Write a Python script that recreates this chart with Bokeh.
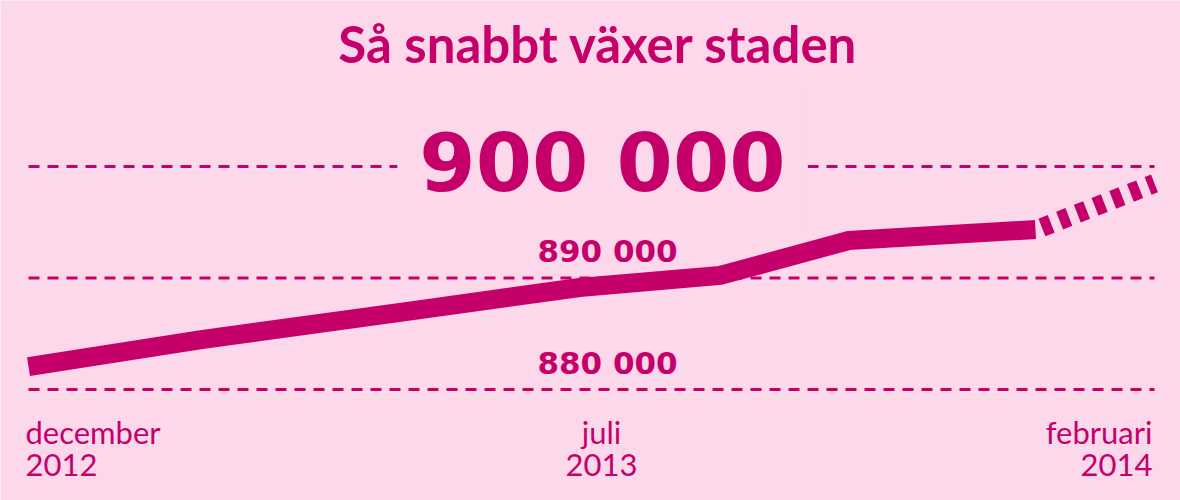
from bokeh.plotting import figure
from bokeh.models import Range1d, ColumnDataSource
from bokeh.core.properties import value
from bokeh.embed import file_html
from bokeh.resources import INLINE

# ---- data (months after December 2012, population) ----
solid_months = [0, 2.15, 4.6, 6.85, 8.6, 10.2, 12.52]
solid_pop = [882060, 884480, 886900, 889150, 890230, 893360, 894350]
proj_months = [12.6, 14]
proj_pop = [894530, 898480]

grid_values = [880000, 890000, 900000]
grid_labels = ["880 000", "890 000"]
big_label = "900 000"

tick_months = [0, 7, 14]
tick_month_names = ["december", "juli", "februari"]
tick_years = ["2012", "2013", "2014"]
tick_align = ["left", "center", "right"]

title_text = "Så snabbt växer staden"

# ---- style ----
BG = "#fcd8ea"
MAG = "#c6006b"
tick_xoff = [-3, 10, -2]

p = figure(width=1180, height=500, output_backend="svg", toolbar_location=None,
           x_range=Range1d(-0.3481, 14.3233), y_range=Range1d(870045, 914888),
           x_axis_type=None, y_axis_type=None, min_border=0)
p.min_border_left = p.min_border_right = p.min_border_top = p.min_border_bottom = 0
p.background_fill_color = BG
p.border_fill_color = BG
p.outline_line_color = None
p.xgrid.visible = False
p.ygrid.visible = False

# dashed gridlines
gsrc = ColumnDataSource(dict(x0=[tick_months[0]] * 3, x1=[tick_months[-1]] * 3,
                             y=grid_values))
p.segment(x0="x0", y0="y", x1="x1", y1="y", source=gsrc, line_color=MAG,
          line_width=3, line_dash="11 8")

mid = tick_months[1]

# big 900 000 label (covers the gridline)
p.text(x=[mid], y=[grid_values[2]], text=[big_label], text_font=value("DejaVu Sans"),
       text_font_style="bold", text_font_size="81px", text_color=MAG,
       text_align="center", text_baseline="alphabetic", x_offset=11, y_offset=-4,
       background_fill_color=BG, padding=22)

# line
p.line(solid_months, solid_pop, line_color=MAG, line_width=19, line_cap="butt",
       line_join="miter")
p.line(proj_months, proj_pop, line_color=MAG, line_width=19, line_cap="butt",
       line_dash="10 9")

# small value labels
p.text(x=[mid] * 2, y=grid_values[:2], text=grid_labels, text_font=value("DejaVu Sans"),
       text_font_style="bold", text_font_size="31px", text_color=MAG,
       text_align="center", text_baseline="alphabetic", x_offset=16, y_offset=-27)

# title
p.text(x=[mid], y=[grid_values[2]], text=[title_text], text_font=value("Lato"),
       text_font_style="bold", text_font_size="51px", text_color=MAG,
       text_align="center", text_baseline="alphabetic", x_offset=7, y_offset=-123)

# x labels
tsrc = ColumnDataSource(dict(x=tick_months, y=[grid_values[0]] * 3,
                             m=tick_month_names, yr=tick_years, al=tick_align,
                             xo=tick_xoff))
p.text(x="x", y="y", text="m", source=tsrc, text_font=value("Lato"),
       text_font_size="31px", text_color=MAG, text_align="al", x_offset="xo",
       text_baseline="alphabetic", y_offset=42)
p.text(x="x", y="y", text="yr", source=tsrc, text_font=value("Lato"),
       text_font_size="31px", text_color=MAG, text_align="al", x_offset="xo",
       text_baseline="alphabetic", y_offset=75)

open("out.html", "w").write(file_html(p, INLINE))
